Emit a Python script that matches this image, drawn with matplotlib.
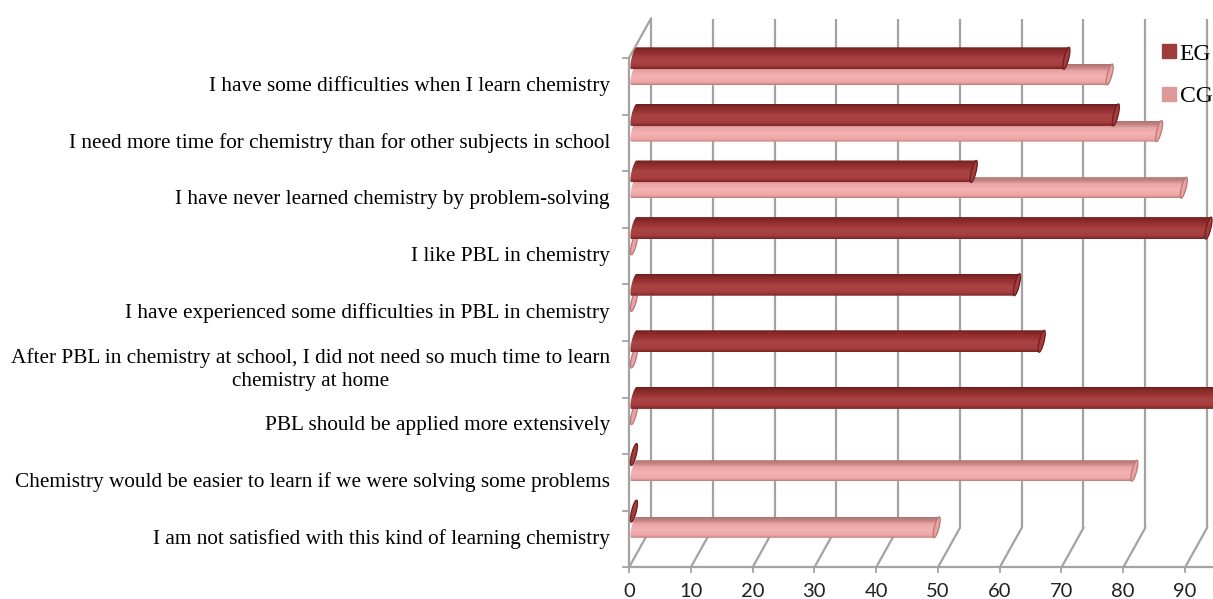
import numpy as np
import matplotlib
matplotlib.use("Agg")
import matplotlib.pyplot as plt
from matplotlib.colors import LinearSegmentedColormap
from matplotlib.patches import Polygon
from matplotlib.lines import Line2D

# --- data ---
categories = [
    "I have some difficulties when I learn chemistry",
    "I need more time for chemistry than for other subjects in school",
    "I have never learned chemistry by problem-solving",
    "I like PBL in chemistry",
    "I have experienced some difficulties in PBL in chemistry",
    "After PBL in chemistry at school, I did not need so much time to learn\nchemistry at home",
    "PBL should be applied more extensively",
    "Chemistry would be easier to learn if we were solving some problems",
    "I am not satisfied with this kind of learning chemistry",
]
eg_values = [70, 78, 55, 93, 62, 66, 100, 0, 0]
cg_values = [77, 85, 89, 0, 0, 0, 0, 81, 49]
tick_values = [0, 10, 20, 30, 40, 50, 60, 70, 80, 90]
grid_values = [0, 10, 20, 30, 40, 50, 60, 70, 80, 90, 100]

# --- look ---
SERIF = ["Liberation Serif", "DejaVu Serif"]
SANS = ["Lato", "DejaVu Sans"]
GRID = "#a3a3a3"
EG_STOPS = [(0.0, "#6e1c1c"), (0.12, "#862828"), (0.3, "#963131"), (0.55, "#aa4444"),
            (0.85, "#a53d3d"), (1.0, "#7a2323")]
CG_STOPS = [(0.0, "#b37070"), (0.2, "#c98a8a"), (0.32, "#eaa4a4"), (0.6, "#f4b2b2"),
            (0.88, "#eea6a6"), (1.0, "#c07c7c")]
EG_CAP = ("#a43e3e", "#6e1c1c")
CG_CAP = ("#eaa3a3", "#b97777")

# pixel scale of the reference (value units / category units)
PX_X = 6.178   # px per value unit
PX_Y = 56.6    # px per category band
DX = 22 / PX_X     # depth offset of back wall
DY = -39.5 / PX_Y

fig = plt.figure(figsize=(12.13, 5.99), dpi=100)
ax = fig.add_axes([0, 0, 1, 1])
ax.axis("off")
xmin, xmax = -629 / PX_X, (1213 - 629) / PX_X
ymin, ymax = -58 / PX_Y, (599 - 58) / PX_Y
n = len(categories)

# --- 3D frame: back wall gridlines, floor, left wall ---
for v in grid_values:
    ax.plot([v + DX, v + DX], [DY, n + DY], color=GRID, lw=1.6, zorder=1,
            solid_capstyle="butt")
    ax.plot([v, v + DX], [n, n + DY], color=GRID, lw=1.6, zorder=1)
    ax.plot([v, v], [n, n + 5 / PX_Y], color=GRID, lw=1.3, zorder=1)
ax.plot([0, xmax + 5], [n, n], color=GRID, lw=1.6, zorder=1)
ax.plot([0, 0], [0, n], color=GRID, lw=1.6, zorder=1)
ax.plot([0, DX], [0, DY], color=GRID, lw=1.6, zorder=1)
for c in range(n + 1):
    ax.plot([-6 / PX_X, 0], [c, c], color=GRID, lw=1.3, zorder=1)

# --- cylinder bars ---
rx = 2.4 / PX_X
sh = 2.6 / PX_X
t = np.linspace(0, 2 * np.pi, 60)


def cap_xy(xe, yc, ry, ts):
    return np.column_stack([xe + rx * np.cos(ts) - sh * np.sin(ts), yc + ry * np.sin(ts)])


def draw_bar(value, yc, ry, stops, cap_colors, z):
    x0 = 0.8
    xe = x0 + value
    if value > 0:
        left = cap_xy(x0, yc, ry, np.linspace(np.pi / 2, 3 * np.pi / 2, 30))
        right = cap_xy(xe, yc, ry, np.linspace(3 * np.pi / 2, 5 * np.pi / 2, 30))
        body = Polygon(np.vstack([left, right]), closed=True, facecolor="none",
                       edgecolor="none", transform=ax.transData)
        ax.add_patch(body)
        cmap = LinearSegmentedColormap.from_list("g", stops)
        grad = np.linspace(0, 1, 64).reshape(-1, 1)
        im = ax.imshow(grad, cmap=cmap, aspect="auto", origin="upper",
                       extent=(x0 - 1, xe + 1, yc + ry, yc - ry), zorder=z,
                       interpolation="bilinear")
        im.set_clip_path(body)
    cap = Polygon(cap_xy(xe, yc, ry, t), closed=True, facecolor=cap_colors[0],
                  edgecolor=cap_colors[1], lw=0.9, zorder=z + 0.5)
    ax.add_patch(cap)


for i in range(n):
    eg_c = i + 0.3 / PX_Y
    cg_c = i + 16.5 / PX_Y
    draw_bar(cg_values[i], cg_c, 10.5 / PX_Y, CG_STOPS, CG_CAP, 3 + i * 0.01)
    draw_bar(eg_values[i], eg_c, 11 / PX_Y, EG_STOPS, EG_CAP, 4 + i * 0.01)

# --- labels ---
for i, label in enumerate(categories):
    ax.text(-19 / PX_X, i + 0.5, label, ha="right", va="center", multialignment="center",
            fontsize=15.3, family=SERIF, color="black", linespacing=1.25)
for v in tick_values:
    ax.text(v, n + 24 / PX_Y, str(v), ha="center", va="center", fontsize=14.5,
            family=SANS, color="#222222")

handles = [Line2D([], [], marker="s", linestyle="", markersize=9.5, color="#9e3b3b"),
           Line2D([], [], marker="s", linestyle="", markersize=9.5, color="#dd9898")]
fig.legend(handles, ["EG", "CG"], loc="upper left", bbox_to_anchor=(1162 / 1213, 1 - 43 / 599),
           frameon=False, prop={"family": SERIF, "size": 17}, handlelength=0.6,
           handletextpad=0.15, labelspacing=0.9, borderaxespad=0, borderpad=0)

ax.set_xlim(xmin, xmax)
ax.set_ylim(ymax, ymin)
fig.savefig("out.png", dpi=100)
